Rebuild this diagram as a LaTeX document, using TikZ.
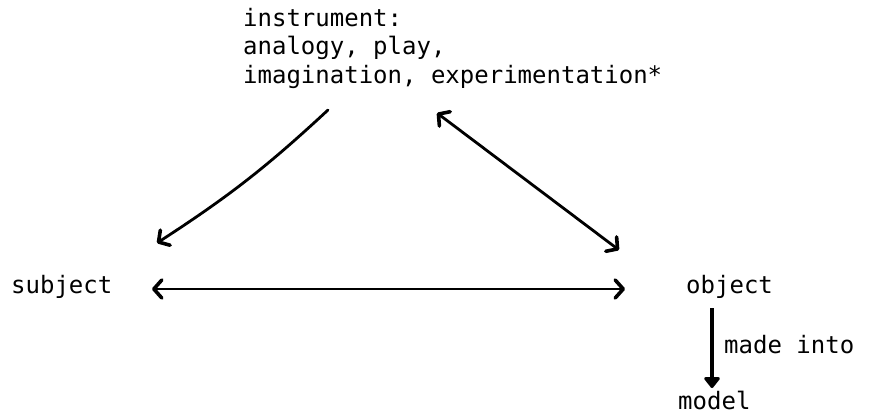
\documentclass[tikz,border=0pt]{standalone}
\usepackage{fontspec}
\setmonofont{DejaVu Sans Mono}
\usetikzlibrary{arrows.meta,bending}
\tikzset{
  lbl/.style={inner sep=0pt, font=\ttfamily\fontsize{24}{28}\selectfont, anchor=base west},
  conn/.style={line width=2.8pt, line cap=round,
    arrows={Straight Barb[length=8pt,width=18pt,line width=3.6pt,round]-Straight Barb[length=8pt,width=18pt,line width=3.6pt,round]}},
  oneway/.style={line width=2.8pt, line cap=round,
    -{Straight Barb[length=8pt,width=18pt,line width=3.6pt,round]}},
  madeinto/.style={line width=3.8pt, -{Triangle[length=12pt,width=18pt,round]}}
}
\begin{document}
\begin{tikzpicture}[x=1pt,y=1pt]
\useasboundingbox (0,0) rectangle (872,416);
\node[lbl, align=left] (instr) at (243,333) {instrument:\\analogy, play,\\imagination, experimentation*};
\node[lbl] (subject) at (11,123) {subject};
\node[lbl] (object) at (686,123) {object};
\node[lbl] (mi) at (724,63) {made into};
\node[lbl] (model) at (678,7) {model};
% connector end points
\coordinate (iL) at (328,306);
\coordinate (sT) at (157,173);
\coordinate (iR) at (437,303);
\coordinate (oT) at (619,166);
\coordinate (sE) at (152,127);
\coordinate (oW) at (625,127);
\coordinate (oB) at (712,108);
\coordinate (mT) at (712,28);
\draw[oneway] (iL) to[bend left=5] (sT);
\draw[conn] (iR) -- (oT);
\draw[conn] (sE) -- (oW);
\draw[madeinto] (oB) -- (mT);
\end{tikzpicture}
\end{document}
